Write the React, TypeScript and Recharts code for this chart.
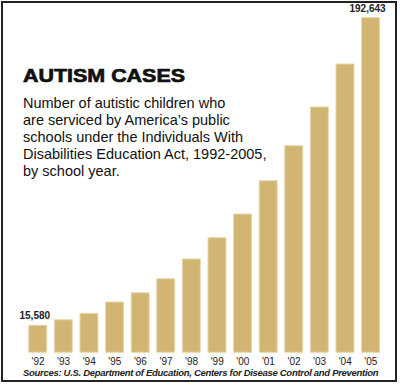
import React from 'react';
import { BarChart, Bar, XAxis, YAxis, LabelList } from 'recharts';

const years = ["'92", "'93", "'94", "'95", "'96", "'97", "'98", "'99", "'00", "'01", "'02", "'03", "'04", "'05"];
const cases = [15580, 18760, 22450, 28950, 34300, 42360, 53700, 65960, 79600, 98770, 118900, 141200, 165950, 192643];
const bodyLines = [
  'Number of autistic children who',
  'are serviced by America\u2019s public',
  'schools under the Individuals With',
  'Disabilities Education Act, 1992-2005,',
  'by school year.',
];

const data = years.map((year, i) => ({ year, cases: cases[i] }));

const BAR = '#d2b574';

// only the first and last bars carry a value label
const renderLabel = (props: any) => {
  const { x, y, width, index, value } = props;
  if (index !== 0 && index !== cases.length - 1) return null;
  return (
    <text
      x={x + width / 2 - 3}
      y={y - 6}
      textAnchor="middle"
      fontSize={10}
      fontWeight="bold"
      fill="#222"
      fontFamily="Liberation Sans, Arial, sans-serif"
    >
      {Number(value).toLocaleString('en-US')}
    </text>
  );
};

export default function App() {
  return (
    <div style={{ position: 'absolute', left: 0, top: 0, width: 400, height: 385, background: '#fff' }}>
      <BarChart
        width={400}
        height={385}
        data={data}
        margin={{ top: 4.8, right: 16.4, bottom: 12.7, left: 25.2 }}
        barCategoryGap="14%"
      >
        <YAxis hide domain={[0, 200000]} />
        <XAxis
          dataKey="year"
          height={20}
          axisLine={false}
          tickLine={false}
          tickSize={0}
          tickMargin={6}
          interval={0}
          tick={{ fontSize: 10, fill: '#222', fontFamily: 'Liberation Sans Narrow, Liberation Sans, Arial, sans-serif' }}
        />
        <Bar dataKey="cases" fill={BAR} stroke="#e8d9ac" strokeWidth={1} isAnimationActive={false}>
          <LabelList dataKey="cases" content={renderLabel} />
        </Bar>
      </BarChart>
      <svg
        width={400}
        height={385}
        style={{ position: 'absolute', left: 0, top: 0, pointerEvents: 'none' }}
        fontFamily="Liberation Sans, Arial, sans-serif"
      >
        <rect x={2} y={2} width={394} height={379} fill="none" stroke="#222" strokeWidth={2} />
        <text
          x={23}
          y={82.3}
          fontSize={19}
          fontWeight="bold"
          fill="#111"
          stroke="#111"
          strokeWidth={0.7}
          textLength={162}
          lengthAdjust="spacingAndGlyphs"
        >
          AUTISM CASES
        </text>
        {bodyLines.map((line, i) => (
          <text key={i} x={23} y={107.5 + i * 17.1} fontSize={14.5} fill="#111">
            {line}
          </text>
        ))}
        <text
          x={23}
          y={376}
          fontSize={9.5}
          fontWeight="bold"
          fontStyle="italic"
          fill="#222"
          letterSpacing={-0.3}
        >
          Sources: U.S. Department of Education, Centers for Disease Control and Prevention
        </text>
      </svg>
    </div>
  );
}
